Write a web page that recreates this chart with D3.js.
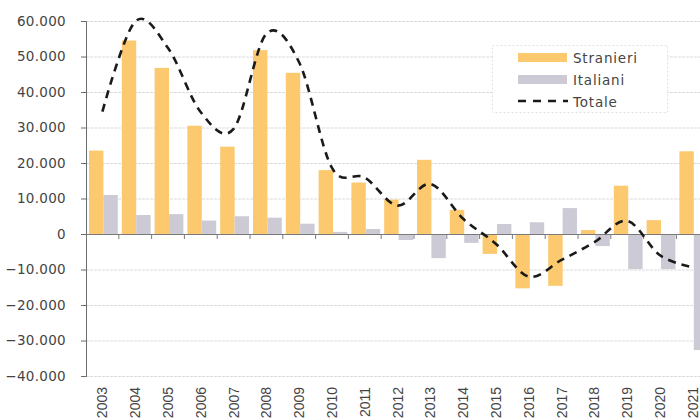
<!DOCTYPE html>
<html>
<head>
<meta charset="utf-8">
<script src="https://cdn.jsdelivr.net/npm/d3@7"></script>
<style>
  html, body { margin: 0; padding: 0; background: #fff; }
  svg { display: block; }
  text { font-family: "DejaVu Sans", Verdana, sans-serif; fill: #444; }
</style>
</head>
<body>
<svg id="chart" width="700" height="419"></svg>
<script>
// Saldo migratorio per anno (valori annui)
const years = ["2003","2004","2005","2006","2007","2008","2009","2010","2011","2012",
               "2013","2014","2015","2016","2017","2018","2019","2020","2021"];
const stranieri = [23500, 54500, 46800, 30500, 24600, 51800, 45400, 18000, 14500, 9700,
                   20900, 6800, -5600, -15300, -14600, 1100, 13600, 3900, 23300];
const italiani  = [11000, 5350, 5600, 3800, 5000, 4600, 2900, 600, 1400, -1700,
                   -6800, -2500, 2800, 3300, 7300, -3400, -9900, -9900, -32700];
const totale = years.map((y, i) => stranieri[i] + italiani[i]);
const yTicks = [60000, 50000, 40000, 30000, 20000, 10000, 0, -10000, -20000, -30000, -40000];
const seriesNames = ["Stranieri", "Italiani", "Totale"];
const colors = { Stranieri: "#fcc96f", Italiani: "#cccbd5", Totale: "#1a1a1a" };

const svg = d3.select("#chart");
const plotLeft = 86, plotTop = 21, plotBottom = 376;
const bandW = 32.8;

const x = d3.scaleBand().domain(years).range([plotLeft, plotLeft + bandW * years.length]).paddingInner(0).paddingOuter(0);
const y = d3.scaleLinear().domain([-40000, 60000]).range([plotBottom, plotTop]);
const fmt = v => d3.format(",")(v).replace(/,/g, ".");

// grid
svg.append("g").selectAll("line").data(yTicks.filter(v => v !== 0)).join("line")
  .attr("x1", plotLeft).attr("x2", 700)
  .attr("y1", d => y(d) + 0.5).attr("y2", d => y(d) + 0.5)
  .attr("stroke", "#dadada").attr("stroke-width", 1).attr("stroke-dasharray", "3,1");

// y axis
const yAxis = svg.append("g").attr("transform", `translate(${plotLeft},0)`)
  .call(d3.axisLeft(y).tickValues(yTicks).tickFormat(fmt).tickSize(5).tickPadding(15));
yAxis.select(".domain").attr("stroke", "#6b6b6b");
yAxis.selectAll(".tick line").attr("stroke", "#6b6b6b");
yAxis.selectAll("text").style("font-size", "13.5px").attr("fill", "#444").style("letter-spacing", "0.3px");

// bars
const inner = d3.scaleBand().domain(["Stranieri", "Italiani"]).range([3, bandW - 1]).padding(0);
const barData = [];
years.forEach((yr, i) => {
  barData.push({ yr, key: "Stranieri", v: stranieri[i] });
  barData.push({ yr, key: "Italiani", v: italiani[i] });
});
svg.append("g").selectAll("rect").data(barData).join("rect")
  .attr("x", d => x(d.yr) + inner(d.key))
  .attr("width", inner.bandwidth())
  .attr("y", d => y(Math.max(0, d.v)))
  .attr("height", d => Math.abs(y(d.v) - y(0)))
  .attr("fill", d => colors[d.key]);

// x axis on zero line
const xAxis = svg.append("g").attr("transform", `translate(0,${y(0)})`)
  .call(d3.axisBottom(x).tickSize(5).tickFormat(""));
xAxis.select(".domain").attr("stroke", "#7a7a7a");
xAxis.selectAll(".tick").attr("transform", d => `translate(${x(d) + bandW},0)`);
xAxis.selectAll(".tick line").attr("stroke", "#7a7a7a");

// year labels at the bottom, rotated
svg.append("g").selectAll("text").data(years).join("text")
  .attr("transform", d => `translate(${x(d) + bandW / 2 + 5},${387}) rotate(-90)`)
  .attr("text-anchor", "end")
  .style("font-family", "'Liberation Sans', Arial, sans-serif")
  .style("font-size", "14px")
  .attr("fill", "#555")
  .text(d => d);

// total line
const line = d3.line()
  .x((d, i) => x(years[i]) + bandW / 2)
  .y(d => y(d))
  .curve(d3.curveCardinal.tension(0));
svg.append("path").datum(totale)
  .attr("d", line)
  .attr("fill", "none")
  .attr("stroke", colors.Totale)
  .attr("stroke-width", 2.6)
  .attr("stroke-dasharray", "8,6");

// legend
const lg = svg.append("g");
lg.append("rect").attr("x", 492.5).attr("y", 45.5).attr("width", 175).attr("height", 67)
  .attr("fill", "#fff").attr("stroke", "#e2e2e2").attr("stroke-dasharray", "2,2");
const rows = [53, 75, 97];
seriesNames.forEach((name, i) => {
  const ry = rows[i];
  if (name === "Totale") {
    lg.append("line").attr("x1", 518).attr("x2", 568).attr("y1", ry + 4).attr("y2", ry + 4)
      .attr("stroke", colors.Totale).attr("stroke-width", 2.4).attr("stroke-dasharray", "8,7");
  } else {
    lg.append("rect").attr("x", 518).attr("y", ry).attr("width", 49).attr("height", 9)
      .attr("fill", colors[name]);
  }
  lg.append("text").attr("x", 573).attr("y", ry + 10)
    .style("font-size", "13.5px").style("letter-spacing", "0.8px").text(name);
});
</script>
</body>
</html>
